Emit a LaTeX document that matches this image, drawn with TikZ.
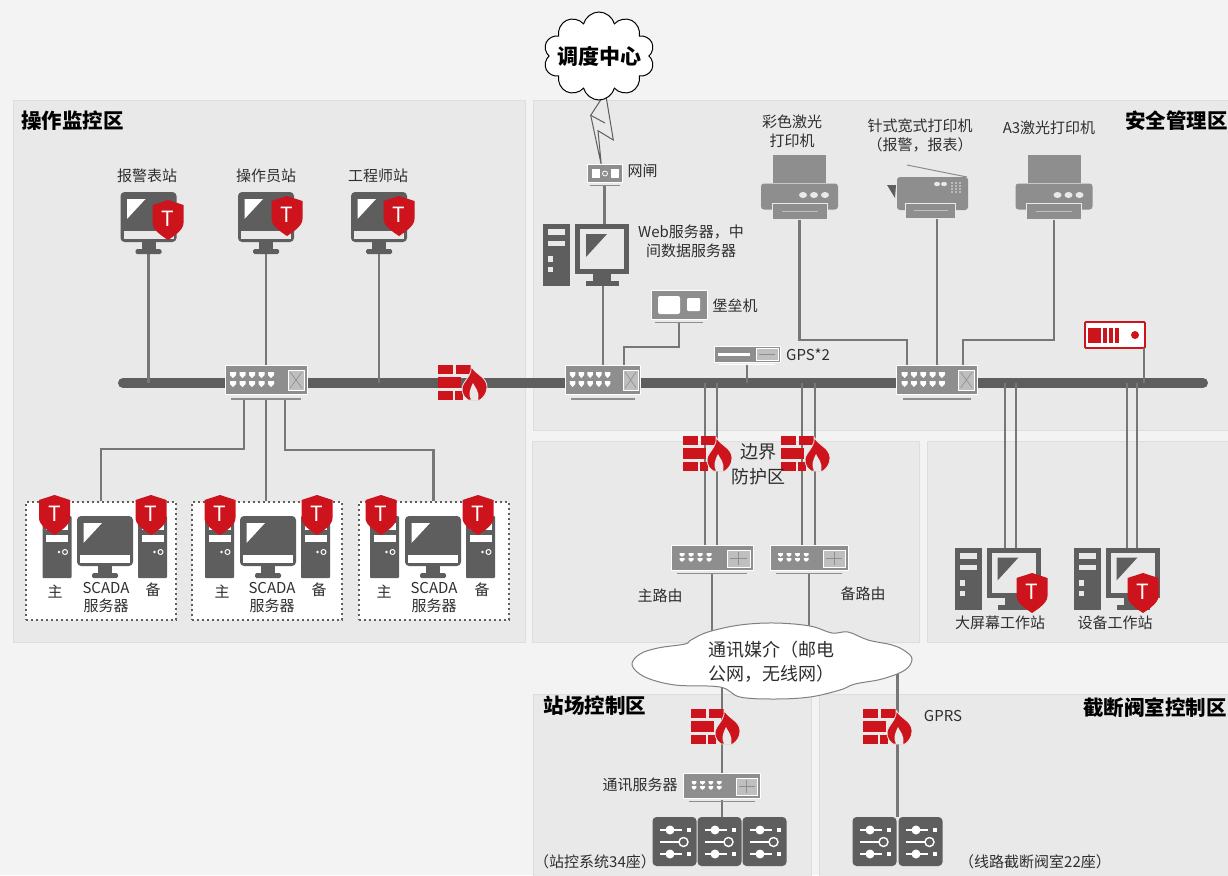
\documentclass[tikz,border=0pt]{standalone}
\usepackage{fontspec}
\setmainfont{Noto Sans CJK SC}
\usetikzlibrary{calc,positioning,shapes.symbols}

\definecolor{pagegray}{HTML}{F3F3F3}
\definecolor{zonegray}{HTML}{E9E9E9}
\definecolor{zoneline}{HTML}{DDDDDD}
\definecolor{darkicon}{HTML}{5E5E5E}
\definecolor{midicon}{HTML}{8E8E8E}
\definecolor{wiregray}{HTML}{777777}
\definecolor{alertred}{HTML}{CD141C}
\definecolor{textgray}{HTML}{2E2E2E}

\tikzset{
  zone/.style={fill=zonegray, draw=zoneline, line width=0.8pt},
  zonetitle/.style={font=\fontsize{20.5}{24}\selectfont\bfseries, text=black, inner sep=0pt},
  lab/.style={font=\fontsize{15}{19}\selectfont, text=textgray, inner sep=0pt, align=center},
  biglab/.style={font=\fontsize{18}{24}\selectfont, text=textgray, inner sep=0pt, align=left},
  slot/.style={minimum width=#1, inner sep=0pt, outer sep=0pt},
  wire/.style={draw=wiregray, line width=2.2pt},
  bus/.style={draw=darkicon, line width=10pt, line cap=round},
  scadabox/.style={draw=darkicon, fill=white, line width=2pt, dash pattern=on 2pt off 3pt,
    minimum width=150pt, minimum height=118pt, inner sep=0pt},
  pics/monitor/.style={code={
    \fill[darkicon, rounded corners=4pt] (-28,-31) rectangle (28,19);
    \fill[white] (-21.5,-24) -- (-3,-24) -- (-21.5,-4) -- cycle;
    \fill[#1] (-25,8) rectangle (25,16);
    \fill[darkicon] (-7,19) rectangle (7,27);
    \fill[darkicon, rounded corners=1.5pt] (-13,26) rectangle (13,31);
  }},
  pics/tower/.style={code={
    \fill[darkicon, rounded corners=1pt] (-14.5,-31) rectangle (14.5,31);
    \fill[white] (-11,-24) rectangle (11,-17);
    \fill[white] (-11,-12) rectangle (11,-5);
    \fill[white] (2,5) circle [radius=1.3pt];
    \draw[white, line width=1pt] (8,5) circle [radius=2.5pt];
  }},
  pics/workset/.style={code={
    \fill[darkicon] (-43,-31) rectangle (-16,31);
    \fill[zonegray] (-38,-26) rectangle (-21,-20);
    \fill[zonegray] (-38,-14) rectangle (-21,-9);
    \fill[zonegray] (-38,1) rectangle (-33,7);
    \fill[zonegray] (-38,12) rectangle (-33,17);
    \fill[darkicon] (-11,-31) rectangle (43,19);
    \fill[zonegray] (-6,-26) rectangle (38,14);
    \fill[darkicon] (0,-21) -- (21,-21) -- (0,2) -- cycle;
    \fill[darkicon] (7,19) rectangle (25,26);
    \fill[darkicon] (0,26) rectangle (33,31);
  }},
  pics/shield/.style={code={
    \fill[alertred] (0,-20) -- (15.5,-15) -- (15.5,3) .. controls (15.5,10) and (6,16) .. (0,20)
      .. controls (-6,16) and (-15.5,10) .. (-15.5,3) -- (-15.5,-15) -- cycle;
    \node[font=\fontsize{21}{21}\selectfont, text=white, inner sep=0pt] (-t) at (0,-1) {T};
  }},
  pics/firewall/.style={code={
    \fill[alertred] (-24,-18) rectangle (-9,-9);
    \fill[alertred] (-6.5,-18) rectangle (9,-9);
    \fill[alertred] (-24,-6) rectangle (-1,5);
    \fill[alertred] (-24,8) rectangle (-9,17);
    \fill[alertred] (-7,8) rectangle (1,17);
    \filldraw[fill=alertred, draw=zonegray, line width=0.8pt] (9,-17) .. controls (14,-8) and (25,-6) .. (25,4)
      .. controls (25,10) and (22,14) .. (18,17) -- (6,17) .. controls (0,13) and (-2,6) .. (2,0)
      .. controls (5,-5) and (10,-9) .. (9,-17) -- cycle;
    \fill[zonegray] (11,0) .. controls (13,5) and (18,8) .. (16,17) -- (9,17) .. controls (6,11) and (8,6) .. (11,0) -- cycle;
  }},
  pics/switchbox/.style={code={
    \filldraw[fill=midicon, draw=white, line width=0.8pt] (-41,-17) rectangle (41,12);
    \fill[midicon] (-35,16) rectangle (35,17.5);
    \foreach \px in {-33,-23.5,-14,-4.5,5} {
      \foreach \py in {-7,2} {
        \fill[white] (\px-3,\py-3) -- (\px+3,\py-3) -- (\px+3,\py) -- (\px,\py+3) -- (\px-3,\py) -- cycle;
      }
    }
    \filldraw[fill=lightgray, draw=white, line width=0.8pt] (22,-12) rectangle (38,8);
    \draw[midicon, line width=0.6pt] (24,-10) -- (36,6) (24,6) -- (36,-10);
  }},
  pics/routerbox/.style={code={
    \filldraw[fill=midicon, draw=white, line width=0.8pt] (-41,-14) rectangle (41,11);
    \fill[midicon] (-35,13.5) rectangle (35,14.5);
    \foreach \px in {-30,-21,-12,-3} {
      \foreach \py in {-4,1} {
        \fill[white] (\px-2.5,\py-1.8) -- (\px+2.5,\py-1.8) -- (\px+2.5,\py) -- (\px,\py+1.8) -- (\px-2.5,\py) -- cycle;
      }
    }
    \filldraw[fill=lightgray, draw=white, line width=0.8pt] (15,-9) rectangle (38,8);
    \draw[midicon, line width=0.6pt] (18,-0.5) -- (35,-0.5) (26.5,-7) -- (26.5,6);
  }},
  pics/gatebox/.style={code={
    \filldraw[fill=midicon, draw=white, line width=0.6pt] (-17.5,-10) rectangle (17.5,8);
    \fill[white] (-13,-5) rectangle (-5,4);
    \fill[white] (6,-5) rectangle (14,4);
    \draw[white, line width=0.8pt] (0.5,-0.5) circle [radius=2.5pt];
    \fill[midicon] (-15,10.5) rectangle (15,11.2);
  }},
  pics/bastionbox/.style={code={
    \filldraw[fill=midicon, draw=white, line width=0.6pt] (-28,-16.5) rectangle (28,12.5);
    \fill[white, rounded corners=2pt] (-21,-10.5) rectangle (1,7.5);
    \fill[white, rounded corners=1pt] (8,-8.5) rectangle (21,4.5);
    \fill[midicon] (-24,15.5) rectangle (24,16.5);
  }},
  pics/gpsbox/.style={code={
    \filldraw[fill=midicon, draw=white, line width=0.6pt] (-33,-9) rectangle (33,7);
    \fill[white] (-29,-2) rectangle (3,1);
    \filldraw[fill=lightgray, draw=white, line width=0.5pt] (9,-7) rectangle (31,5);
    \draw[midicon, line width=0.5pt] (12,-1) -- (28,-1);
    \fill[white] (-28,8.5) rectangle (28,9.5);
  }},
  pics/laserprinter/.style={code={
    \fill[midicon] (-26.5,-32.5) rectangle (26.5,-5);
    \fill[midicon, rounded corners=3pt] (-38.5,22) -- (-38.5,-4) -- (38.5,-4) -- (38.5,22) -- cycle;
    \filldraw[fill=midicon, draw=zonegray, line width=1pt] (-27.5,16) rectangle (27.5,32);
    \draw[lightgray, line width=1pt] (-18,24) -- (18,24);
    \foreach \dx in {3.5,14.5,25.5} {
      \fill[zonegray] (\dx,7.5) ellipse [x radius=4pt, y radius=3pt];
    }
  }},
  pics/faxprinter/.style={code={
    \draw[midicon, line width=1pt] (-20.5,-26.5) -- (39.5,-14.5);
    \fill[darkicon] (-40.5,-6.5) -- (-31.5,-6.5) -- (-32.5,6.5) -- cycle;
    \fill[midicon, rounded corners=3pt] (-30.5,18.5) -- (-30.5,-14.5) -- (40.5,-14.5) -- (40.5,18.5) -- cycle;
    \filldraw[fill=midicon, draw=zonegray, line width=1pt] (-22.5,11.5) rectangle (27.5,26.5);
    \draw[lightgray, line width=1pt] (-14,19) -- (20,19);
    \foreach \dx in {9.5,16.5} {
      \fill[zonegray] (\dx,-7.5) ellipse [x radius=3pt, y radius=2.2pt];
    }
    \foreach \dx in {24.5,28.5,32.5} {
      \foreach \dy in {-8.5,-5.5,-2.5,0.5} {
        \fill[zonegray] (\dx,\dy) circle [radius=0.8pt];
      }
    }
  }},
  pics/valvetile/.style={code={
    \fill[darkicon, rounded corners=4pt] (-22,-24.5) rectangle (22,24.5);
    \foreach \ry in {-11.5,12.5} {
      \draw[white, line width=1.2pt] (-15,\ry) -- (7,\ry);
      \fill[white] (-4.5,\ry) circle [radius=4.5pt];
      \fill[white] (12.5,\ry-2) rectangle (16.5,\ry+2);
    }
    \draw[white, line width=1.2pt] (-15,0.5) -- (4,0.5);
    \draw[white, line width=1.4pt] (9,0.5) circle [radius=4.5pt];
  }},
}

\begin{document}
\begin{tikzpicture}[x=1pt, y=-1pt]
\useasboundingbox (0,0) rectangle (1228,875);
\fill[pagegray] (0,0) rectangle (1228,875);

\filldraw[zone] (13,100) rectangle (525,642);
\filldraw[zone] (533,100) rectangle (1230,430);
\filldraw[zone] (532,441) rectangle (919,642);
\filldraw[zone] (927,441) rectangle (1230,642);
\filldraw[zone] (533,694) rectangle (811,877);
\filldraw[zone] (819,694) rectangle (1230,877);

\node[zonetitle] (optitle) at (72.5,121) {操作监控区};
\node[zonetitle, anchor=east] (safetitle) at (1228,121) {安全管理区};
\node[zonetitle] (sitetitle) at (595,706) {站场控制区};
\node[zonetitle, anchor=east] (valvetitle) at (1227,708) {截断阀室控制区};

\coordinate (busl) at (123,383);
\coordinate (busr) at (1203,383);
\coordinate (cloudmid) at (772,662);

\node[slot=57pt, minimum height=62pt] (alarm) at (148.5,223) {};
\node[slot=57pt, minimum height=62pt] (oper) at (266,223) {};
\node[slot=57pt, minimum height=62pt] (eng) at (379,223) {};

\node[slot=82pt, minimum height=34pt] (swA) at (266,382) {};
\node[slot=75pt, minimum height=34pt] (swB) at (603,382) {};
\node[slot=80pt, minimum height=34pt] (swC) at (937,382) {};

\node[slot=35pt, minimum height=22pt] (gate) at (604.5,174) {};
\node[slot=86pt, minimum height=62pt] (web) at (586,255) {};
\node[slot=56pt, minimum height=33pt] (bastion) at (679,306.5) {};
\node[slot=66pt, minimum height=18pt] (gps) at (747,355) {};

\node[slot=77pt, minimum height=65pt] (laser) at (799.5,187.5) {};
\node[slot=81pt, minimum height=53pt] (fax) at (927.5,191.5) {};
\node[slot=77pt, minimum height=65pt] (athree) at (1054,187.5) {};
\node[slot=60pt, minimum height=26pt, draw=alertred, fill=white, line width=1.8pt, rounded corners=1pt] (redsrv) at (1115,335) {};

\node[slot=82pt, minimum height=28pt] (rtA) at (712,559) {};
\node[slot=78pt, minimum height=28pt] (rtB) at (809,559) {};
\node[slot=86pt, minimum height=62pt] (bigws) at (997.5,578.5) {};
\node[slot=86pt, minimum height=62pt] (devws) at (1116.5,578.5) {};

\node[slot=76pt, minimum height=26pt] (srv) at (722,787) {};
\node[slot=135pt, minimum height=49pt] (siteio) at (719.5,841.5) {};
\node[slot=91pt, minimum height=49pt] (valveio) at (897.5,841.5) {};

\node[slot=48pt, minimum height=35pt] (fwA) at (462,383) {};
\node[slot=48pt, minimum height=35pt] (fwB) at (707,454) {};
\node[slot=48pt, minimum height=35pt] (fwC) at (805,454) {};
\node[slot=48pt, minimum height=35pt] (fwD) at (715,727) {};
\node[slot=48pt, minimum height=35pt] (fwE) at (887,727) {};

\draw[bus] (busl) -- (busr);

\draw[wire] (alarm.south) -- (alarm.south |- busl);
\draw[wire] (oper.south) -- (swA.north);
\draw[wire] (eng.south) -- (eng.south |- busl);

\draw[wire] (gate.south) -- (gate.south |- web.north);
\draw[wire] (swB.north) -- (swB.north |- web.south);
\draw[wire] (bastion.south) |- ($(swB.north)+(21,-18)$) -- ($(swB.north)+(21,0)$);
\draw[wire] (gps.south) -- (gps.south |- busl);

\draw[wire] (laser.south) |- ($(swC.north)+(-30,-25)$) -- ($(swC.north)+(-30,0)$);
\draw[wire] (swC.north) -- (swC.north |- fax.south);
\draw[wire] (athree.south) |- ($(swC.north)+(26,-25)$) -- ($(swC.north)+(26,0)$);
\draw[wire] ($(redsrv.south)+(29,0)$) -- ($(redsrv.south |- busl)+(29,0)$);

\foreach \dx in {-7,5} {
  \draw[wire] ($(rtA.north)+(\dx,0)$) -- ($(rtA.north |- busl)+(\dx,0)$);
}
\foreach \dx in {-7,6} {
  \draw[wire] ($(rtB.north)+(\dx,0)$) -- ($(rtB.north |- busl)+(\dx,0)$);
}
\foreach \dx in {7.5,18.5} {
  \draw[wire] ($(bigws.north)+(\dx,0)$) -- ($(bigws.north |- busl)+(\dx,0)$);
}
\foreach \dx in {10.5,20.5} {
  \draw[wire] ($(devws.north)+(\dx,0)$) -- ($(devws.north |- busl)+(\dx,0)$);
}

\draw[wire] (rtA.south) -- (rtA.south |- cloudmid);
\draw[wire] (rtB.south) -- (rtB.south |- cloudmid);
\draw[wire] (srv.north) -- (srv.north |- cloudmid);
\draw[wire] (srv.south) -- (srv.south |- siteio.north);
\draw[wire] (valveio.north) -- (valveio.north |- cloudmid);

\foreach \name/\bx/\tl/\mx/\tr/\sl/\sr/\zl/\tx/\zr in {
  scadaA/101/57/105/152.5/54.5/151/55/106/153,
  scadaB/267/219.5/268/315.5/220/317/222/272/319,
  scadaC/433.5/384.5/433/480.5/381/478/384/434/482} {
  \node[scadabox] (\name) at (\bx,560.5) {};
  \pic at (\tl,547) {tower};
  \pic at (\tr,547) {tower};
  \pic at (\mx,547) {monitor=white};
  \pic at (\sl,515) {shield};
  \pic at (\sr,515) {shield};
  \node[lab] (\name main) at (\zl,592) {主};
  \node[lab] (\name spare) at (\zr,590) {备};
  \node[lab] (\name text) at (\tx,598) {SCADA\\[-1pt]服务器};
}

\draw[wire] ($(swA.south)+(-22,0)$) -- ($(swA.south)+(-22,50)$) -| (scadaA.north);
\draw[wire] (swA.south) -- (swA.south |- scadaB.north);
\draw[wire] ($(swA.south)+(19,0)$) -- ($(swA.south)+(19,51)$) -| (scadaC.north);

\pic at (alarm) {monitor=zonegray};
\pic at (oper) {monitor=zonegray};
\pic at (eng) {monitor=zonegray};
\pic at ($(alarm)+(19.5,-3)$) {shield};
\pic at ($(oper)+(21,-7)$) {shield};
\pic at ($(eng)+(20,-7)$) {shield};

\pic at (swA) {switchbox};
\pic[xscale=0.92] at (swB) {switchbox};
\pic[xscale=0.98] at (swC) {switchbox};
\pic at (rtA) {routerbox};
\pic[xscale=0.95] at (rtB) {routerbox};
\pic[xscale=0.93] at (srv) {routerbox};

\draw[draw=darkicon, line width=1pt, fill=zonegray, shift={(gate.north)}] (-1.2,-67) -- (-13.8,-47.7)
  -- (-3.2,2) -- (-6.5,-32.3) -- (8.8,-23) -- (1.5,-67) -- cycle;
\draw[draw=darkicon, line width=1pt, shift={(gate.north)}] (-13.8,-47.7) -- (0.5,-40);

\pic at (gate) {gatebox};
\pic at (web) {workset};
\pic at (bastion) {bastionbox};
\pic at (gps) {gpsbox};
\pic at (laser) {laserprinter};
\pic at (fax) {faxprinter};
\pic at (athree) {laserprinter};

\fill[alertred] ($(redsrv)+(-27,-7)$) rectangle ($(redsrv)+(-14,8)$);
\foreach \dx in {-12,-6,0} {
  \fill[alertred] ($(redsrv)+(\dx,-7)$) rectangle ($(redsrv)+(\dx+4,8)$);
}
\fill[alertred] ($(redsrv)+(20,0)$) circle [radius=4pt];

\pic at (bigws) {workset};
\pic at (devws) {workset};
\pic at ($(bigws)+(34.5,14.5)$) {shield};
\pic at ($(devws)+(26.5,14.5)$) {shield};

\foreach \dx in {-45,0,45} {
  \pic at ($(siteio)+(\dx,0)$) {valvetile};
}
\foreach \dx in {-23,23} {
  \pic at ($(valveio)+(\dx,0)$) {valvetile};
}

\pic at (fwA) {firewall};
\pic at (fwB) {firewall};
\pic at (fwC) {firewall};
\pic at (fwD) {firewall};
\pic at (fwE) {firewall};

\node[cloud, cloud puffs=10, cloud ignores aspect, draw=black, fill=white, line width=1pt,
  minimum width=111pt, minimum height=88pt, inner sep=0pt] (cloudA) at (599,56) {};
\node[font=\fontsize{21}{24}\selectfont\bfseries, text=black, inner sep=0pt] (cloudAtext) at (cloudA) {调度中心};

\filldraw[draw=gray, fill=white, line width=1pt, shift={(cloudmid)}] plot[smooth cycle, tension=0.6] coordinates {
  (-140,3) (-132,-8) (-114,-14) (-87,-18) (-81,-22) (-64,-30) (-32,-37) (3,-39) (38,-36) (60,-29)
  (76,-30) (96,-22) (120,-17) (133,-11) (140,-3) (133,8) (110,17) (83,22) (68,28) (38,35)
  (3,37) (-32,35) (-52,25) (-97,23) (-127,15)};
\node[biglab] (cloudBtext) at (771,662) {通讯媒介（邮电\\公网，无线网）};

\node[lab] (alarmlab) at (147,176) {报警表站};
\node[lab] (operlab) at (266,176) {操作员站};
\node[lab] (englab) at (378,176) {工程师站};
\node[lab] (gatelab) at ($(gate)+(38,-3)$) {网闸};
\node[lab] (weblab) at (691,241) {Web服务器，中\\间数据服务器};
\node[lab] (bastionlab) at (735,306) {堡垒机};
\node[lab] (gpslab) at (808,355) {GPS*2};
\node[lab] (laserlab) at (792,131) {彩色激光\\打印机};
\node[lab] (faxlab) at (920,135) {针式宽式打印机\\（报警，报表）};
\node[lab] (athreelab) at (1049,128) {A3激光打印机};
\node[font=\fontsize{18}{25}\selectfont, text=textgray, inner sep=0pt, align=center] (edgelab) at (758,464) {边界\\防护区};
\node[lab] (rtAlab) at (660,596) {主路由};
\node[lab] (rtBlab) at (863,594) {备路由};
\node[lab] (bigwslab) at (1000,623) {大屏幕工作站};
\node[lab] (devwslab) at (1115,623) {设备工作站};
\node[lab] (gprslab) at (943,716) {GPRS};
\node[lab] (srvlab) at (640,785) {通讯服务器};
\node[lab] (sitelab) at (595,862) {（站控系统34座）};
\node[lab] (valvelab) at (1035,862) {（线路截断阀室22座）};
\end{tikzpicture}
\end{document}
